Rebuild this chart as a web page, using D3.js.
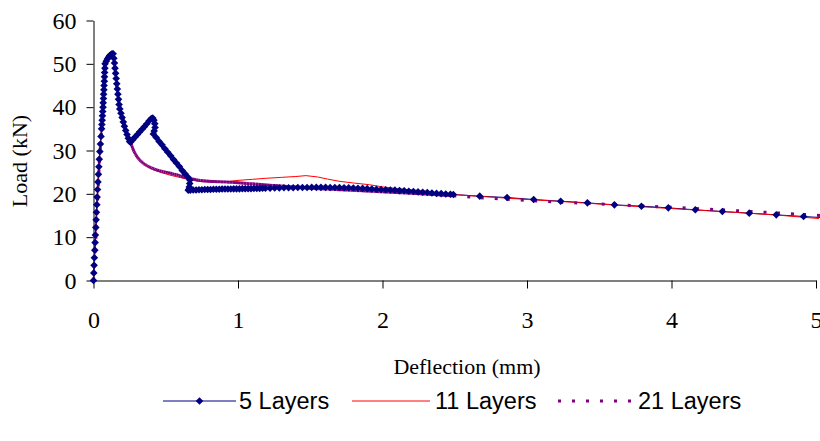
<!DOCTYPE html>
<html>
<head>
<meta charset="utf-8">
<script src="https://cdn.jsdelivr.net/npm/d3@7"></script>
<style>
  body { margin: 0; background: #fff; }
  svg { display: block; }
</style>
</head>
<body>
<svg id="chart" width="820" height="441"></svg>
<script>
// Axis ticks
const xTickValues = [0, 1, 2, 3, 4, 5];
const yTickValues = [0, 10, 20, 30, 40, 50, 60];
const seriesNames = ["5 Layers", "11 Layers", "21 Layers"];

// 5 Layers: deflection (mm) and load (kN)
const defl5 = [
  0, 0.002, 0.004, 0.006, 0.009, 0.011, 0.013, 0.016, 0.018, 0.020, 0.023, 0.025, 0.028, 0.031, 0.034, 0.037, 0.040, 0.044, 0.048, 0.052, 0.056,
  0.058, 0.060, 0.062, 0.064, 0.066, 0.067, 0.069, 0.070, 0.072, 0.073, 0.075, 0.076, 0.077, 0.079, 0.080,
  0.088, 0.096, 0.104, 0.112, 0.120, 0.128, 0.136,
  0.141, 0.145, 0.149, 0.153, 0.157, 0.161, 0.165, 0.169, 0.173, 0.177, 0.182, 0.190, 0.198, 0.206, 0.214, 0.223, 0.232, 0.241, 0.250, 0.256,
  0.272, 0.288, 0.304, 0.320, 0.336, 0.352, 0.368, 0.384, 0.400, 0.410, 0.418, 0.424, 0.426, 0.420, 0.414,
  0.434, 0.454, 0.474, 0.494, 0.514, 0.534, 0.554, 0.574, 0.594, 0.614, 0.634, 0.654, 0.667,
  0.666, 0.663, 0.659, 0.656,
  0.670, 0.690, 0.710, 0.730, 0.750, 0.770, 0.790, 0.810, 0.830, 0.850, 0.870, 0.890, 0.910, 0.930, 0.950, 0.970, 0.990, 1.010, 1.030, 1.050, 1.070, 1.090, 1.110, 1.130, 1.150, 1.170, 1.190,
  1.222, 1.254, 1.286, 1.318, 1.350, 1.382, 1.414, 1.446, 1.478, 1.510, 1.542, 1.574, 1.606, 1.638, 1.670, 1.702, 1.734, 1.766, 1.798, 1.830,
  1.862, 1.894, 1.926, 1.958, 1.990, 2.022, 2.054, 2.086, 2.118, 2.150, 2.182, 2.214, 2.246, 2.278, 2.310, 2.342, 2.374, 2.406, 2.438, 2.470, 2.490,
  2.673, 2.862, 3.046, 3.233, 3.418, 3.605, 3.792, 3.978, 4.165, 4.352, 4.538, 4.725, 4.914, 5.100
];
const load5 = [
  0, 1.75, 3.5, 5.25, 7, 8.75, 10.5, 12.25, 14, 15.75, 17.5, 19.25, 21, 22.75, 24.5, 26.25, 28, 29.75, 31.5, 33.25, 35,
  36, 37, 38, 39, 40, 41, 42, 43, 44, 45, 46, 47, 48, 49, 50,
  50.6, 51.1, 51.5, 51.9, 52.1, 52.3, 52.3,
  51.3, 50.2, 49.0, 47.8, 46.6, 45.4, 44.2, 43.0, 41.8, 40.6, 39.6, 38.6, 37.6, 36.6, 35.6, 34.6, 33.7, 32.8, 32.1, 31.9,
  32.5, 33.1, 33.7, 34.3, 34.9, 35.5, 36.1, 36.8, 37.4, 37.5, 37.0, 36.2, 35.3, 34.5, 33.8,
  33.0, 32.1, 31.3, 30.4, 29.6, 28.8, 27.9, 27.1, 26.3, 25.4, 24.6, 23.8, 23.2,
  22.4, 21.6, 21.0, 20.85,
  20.85, 20.9, 20.9, 20.95, 20.95, 21.0, 21.0, 21.0, 21.05, 21.05, 21.05, 21.1, 21.1, 21.1, 21.1, 21.15, 21.15, 21.15, 21.2, 21.2, 21.2, 21.2, 21.25, 21.25, 21.25, 21.3, 21.3,
  21.3, 21.35, 21.35, 21.4, 21.4, 21.4, 21.45, 21.45, 21.45, 21.5, 21.5, 21.5, 21.5, 21.45, 21.45, 21.45, 21.4, 21.4, 21.35, 21.3,
  21.25, 21.2, 21.1, 21.05, 21.0, 20.95, 20.9, 20.85, 20.75, 20.7, 20.6, 20.55, 20.45, 20.35, 20.3, 20.2, 20.1, 20.05, 19.95, 19.9, 19.85,
  19.46, 19.15, 18.69, 18.30, 17.92, 17.46, 17.15, 16.77, 16.31, 15.92, 15.54, 15.15, 14.77, 14.40
];

// 11 Layers
const defl11 = [0, 0.020, 0.040, 0.056, 0.068, 0.080, 0.100, 0.130, 0.150, 0.180, 0.220, 0.255, 0.280, 0.300, 0.330, 0.370, 0.410, 0.470, 0.530, 0.620, 0.670, 0.750, 0.850, 0.950, 1.000, 1.100, 1.200, 1.300, 1.400, 1.470, 1.550, 1.620, 1.700, 1.800, 1.910, 2.000, 2.100, 2.300, 2.500, 2.750, 3.000, 3.250, 3.500, 3.750, 4.000, 4.250, 4.500, 4.750, 5.020];
const load11 = [0, 12.5, 26.5, 35, 42, 50, 51.6, 52.3, 50, 40.5, 35.5, 32, 30.0, 28.6, 27.4, 26.4, 25.6, 24.9, 24.3, 23.6, 23.2, 22.8, 22.7, 22.9, 23.1, 23.35, 23.6, 23.8, 24.0, 24.2, 23.9, 23.4, 22.9, 22.5, 22.1, 21.6, 21.2, 20.6, 19.8, 19.25, 18.7, 18.2, 17.65, 17.1, 16.6, 16.1, 15.6, 15.05, 14.3];

// 21 Layers
const defl21 = [
  0, 0.020, 0.040, 0.056, 0.068, 0.080, 0.100, 0.125, 0.140, 0.160, 0.180, 0.210, 0.240, 0.260,
  0.265, 0.270, 0.275, 0.280, 0.285, 0.290, 0.295, 0.300, 0.305, 0.310, 0.315, 0.320, 0.327, 0.334, 0.341, 0.348, 0.355, 0.362, 0.370, 0.380, 0.390, 0.400, 0.410, 0.420, 0.430, 0.440,
  0.455, 0.470, 0.485, 0.500, 0.515, 0.530, 0.545, 0.560, 0.575, 0.590, 0.605, 0.620, 0.635, 0.650, 0.665, 0.680, 0.695, 0.710, 0.725, 0.740, 0.760, 0.780, 0.800, 0.820, 0.840,
  0.860, 0.880, 0.900, 0.920, 0.940, 0.960, 0.980, 1.000, 1.020, 1.040, 1.060, 1.080, 1.100, 1.120, 1.140, 1.160, 1.180, 1.200, 1.220, 1.240, 1.260, 1.280, 1.300, 1.320, 1.340,
  1.360, 1.380, 1.400, 1.420, 1.440, 1.460, 1.480, 1.500, 1.520, 1.540, 1.560, 1.580, 1.600, 1.620, 1.640, 1.660, 1.680, 1.700, 1.720, 1.740, 1.760, 1.780, 1.800, 1.820, 1.840,
  1.860, 1.880, 1.900, 1.920, 1.940, 1.960, 1.980, 2.000, 2.020, 2.040, 2.060, 2.080, 2.100, 2.120, 2.140, 2.160, 2.180, 2.200, 2.220, 2.240, 2.260, 2.280, 2.300, 2.320, 2.340,
  2.360, 2.380, 2.400, 2.420, 2.440, 2.460, 2.490,
  2.680, 2.860, 3.050, 3.230, 3.420, 3.600, 3.790, 3.980, 4.170, 4.350, 4.540, 4.730, 4.910, 5.100
];
const load21 = [
  0, 12, 27, 35, 42, 50, 51.5, 52.4, 51.5, 45, 40.5, 36.5, 33.2, 31.6,
  31.1, 30.6, 30.2, 29.8, 29.5, 29.2, 28.9, 28.6, 28.4, 28.2, 28.0, 27.8, 27.55, 27.35, 27.15, 26.95, 26.8, 26.65, 26.5, 26.3, 26.15, 26.0, 25.85, 25.75, 25.6, 25.5,
  25.35, 25.2, 25.1, 25.0, 24.9, 24.8, 24.65, 24.5, 24.4, 24.25, 24.1, 23.95, 23.8, 23.65, 23.55, 23.45, 23.35, 23.25, 23.15, 23.1, 23.0, 22.95, 22.9, 22.85, 22.85,
  22.8, 22.8, 22.75, 22.75, 22.7, 22.65, 22.6, 22.55, 22.5, 22.45, 22.4, 22.35, 22.3, 22.25, 22.2, 22.15, 22.1, 22.05, 22.0, 21.95, 21.9, 21.85, 21.8, 21.75, 21.7,
  21.65, 21.6, 21.55, 21.5, 21.45, 21.4, 21.35, 21.3, 21.27, 21.24, 21.2, 21.17, 21.14, 21.1, 21.07, 21.04, 21.0, 20.97, 20.94, 20.9, 20.87, 20.84, 20.8, 20.77, 20.74,
  20.7, 20.67, 20.64, 20.6, 20.57, 20.54, 20.5, 20.47, 20.44, 20.4, 20.37, 20.34, 20.3, 20.27, 20.24, 20.2, 20.17, 20.13, 20.1, 20.06, 20.02, 19.98, 19.94, 19.9, 19.86,
  19.82, 19.78, 19.74, 19.7, 19.66, 19.62, 19.55,
  19.1, 18.75, 18.4, 18.05, 17.8, 17.5, 17.2, 16.95, 16.6, 16.3, 15.95, 15.6, 15.25, 14.85
];

const colors = { s5: "#000080", s11: "#FF0000", s21: "#800080" };
const serif = "'Liberation Serif', 'Times New Roman', serif";
const sans = "'Liberation Sans', Arial, sans-serif";

const svg = d3.select("#chart");
svg.append("rect").attr("width", 820).attr("height", 441).attr("fill", "#fff");

const x = d3.scaleLinear().domain([0, 5]).range([93.5, 816]);
const y = d3.scaleLinear().domain([0, 60]).range([280.5, 20.5]);

const pts5 = defl5.map((d, i) => [d, load5[i]]);
const pts11 = defl11.map((d, i) => [d, load11[i]]);
const pts21 = defl21.map((d, i) => [d, load21[i]]);

const line = d3.line().x(d => x(d[0])).y(d => y(d[1]));

// Axes
const xAxis = d3.axisBottom(x).tickValues(xTickValues).tickSize(8).tickSizeOuter(0).tickPadding(22).tickFormat(d3.format("d"));
const yAxis = d3.axisLeft(y).tickValues(yTickValues).tickSize(7).tickSizeOuter(0).tickPadding(10).tickFormat(d3.format("d"));

const gx = svg.append("g").attr("transform", `translate(0,${y(0)})`).call(xAxis);
const gy = svg.append("g").attr("transform", `translate(${x(0)},0)`).call(yAxis);
[gx, gy].forEach(g => {
  g.selectAll("path.domain").attr("stroke", "#000").attr("stroke-width", 1);
  g.selectAll(".tick line").attr("stroke", "#000").attr("stroke-width", 1);
  g.selectAll(".tick text").attr("fill", "#000").style("font-family", serif).style("font-size", "24px");
});

// Series lines
svg.append("path").datum(pts5).attr("d", line)
  .attr("fill", "none").attr("stroke", colors.s5).attr("stroke-width", 1);
svg.append("path").datum(pts11).attr("d", line)
  .attr("fill", "none").attr("stroke", colors.s11).attr("stroke-width", 1);
// dotted series: each segment carries its own dash pattern
svg.append("g").selectAll("line").data(d3.pairs(pts21)).join("line")
  .attr("x1", d => x(d[0][0])).attr("y1", d => y(d[0][1]))
  .attr("x2", d => x(d[1][0])).attr("y2", d => y(d[1][1]))
  .attr("stroke", colors.s21).attr("stroke-width", 3)
  .attr("stroke-dasharray", "3,11");

// Diamond markers for 5 Layers
const diamond = r => `M0,${-r}L${r},0L0,${r}L${-r},0Z`;
svg.append("g").selectAll("path").data(pts5).join("path")
  .attr("d", diamond(3.8))
  .attr("transform", d => `translate(${x(d[0])},${y(d[1])})`)
  .attr("fill", colors.s5);

// Axis titles
svg.append("text").attr("x", 467).attr("y", 374)
  .attr("text-anchor", "middle").style("font-family", serif).style("font-size", "22px")
  .text("Deflection (mm)");
svg.append("text").attr("transform", "translate(27,161) rotate(-90)")
  .attr("text-anchor", "middle").style("font-family", serif).style("font-size", "22px")
  .text("Load (kN)");

// Legend
const legendY = 401;
const legend = svg.append("g");
const items = [
  { name: seriesNames[0], x0: 163, x1: 236, tx: 239, color: colors.s5, w: 1, dash: null, marker: true },
  { name: seriesNames[1], x0: 352, x1: 430, tx: 435, color: colors.s11, w: 1, dash: null, marker: false },
  { name: seriesNames[2], x0: 558, x1: 634, tx: 638, color: colors.s21, w: 3, dash: "3,11", marker: false }
];
items.forEach(it => {
  legend.append("line").attr("x1", it.x0).attr("x2", it.x1).attr("y1", legendY).attr("y2", legendY)
    .attr("stroke", it.color).attr("stroke-width", it.w).attr("stroke-dasharray", it.dash);
  if (it.marker) {
    legend.append("path").attr("d", diamond(3.8))
      .attr("transform", `translate(${(it.x0 + it.x1) / 2},${legendY})`).attr("fill", it.color);
  }
  legend.append("text").attr("x", it.tx).attr("y", legendY).attr("dy", "0.35em")
    .style("font-family", sans).style("font-size", "23.5px").attr("fill", "#000").text(it.name);
});
</script>
</body>
</html>
